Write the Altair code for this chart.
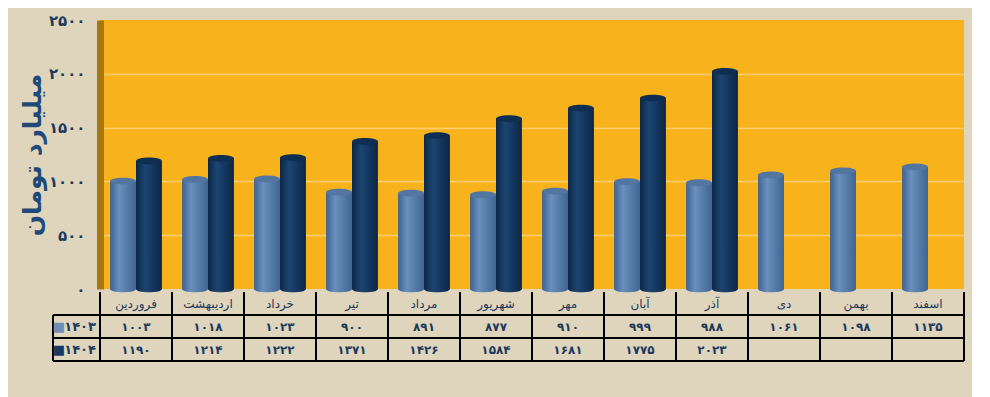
import altair as alt
import pandas as pd

# ---------------- data ----------------
months = ["فروردین", "اردیبهشت", "خرداد", "تیر", "مرداد", "شهریور",
          "مهر", "آبان", "آذر", "دی", "بهمن", "اسفند"]
series = ["1403", "1404"]
series_labels = ["۱۴۰۳", "۱۴۰۴"]
v1403 = [1003, 1018, 1023, 900, 891, 877, 910, 999, 988, 1061, 1098, 1135]
v1404 = [1190, 1214, 1222, 1371, 1426, 1584, 1681, 1775, 2023, None, None, None]
y_ticks = [0, 500, 1000, 1500, 2000, 2500]
y_tick_labels = ["۰", "۵۰۰", "۱۰۰۰", "۱۵۰۰", "۲۰۰۰", "۲۵۰۰"]
y_title = "میلیارد تومان"

FA = str.maketrans("0123456789", "۰۱۲۳۴۵۶۷۸۹")


def fa(v):
    return str(v).translate(FA)


rows = []
for i, m in enumerate(months):
    for s, vals in zip(series, (v1403, v1404)):
        v = vals[i]
        rows.append({"month": m, "series": s, "value": v,
                     "label": fa(v) if v is not None else ""})
df = pd.DataFrame(rows)

legend_df = pd.DataFrame({"row": series, "name": series_labels})
header_df = pd.DataFrame({"month": months, "row": ["header"] * len(months)})

# ---------------- style ----------------
FONT = "DejaVu Sans"
BG = "#DFD5BD"
PLOT_BG = "#F8B31C"
GRID = "#F9CF72"
WALL = "#A87810"
TEXT = "#1C3A5E"
TITLE_C = "#1F4A78"
LIGHT_TOP = "#52769F"
DARK_TOP = "#0E2E52"
LEGEND_C = ["#6F8FB8", "#173A60"]

W = 864
H = 269
TABLE_H = 69
LEG_W = 47
sub_band = W / 12 * 0.72 / 2
ellipse = "M -1 0 A 1 0.26 0 1 0 1 0 A 1 0.26 0 1 0 -1 0 Z"

light_grad = alt.Gradient(gradient="linear", x1=0, x2=1, y1=0, y2=0, stops=[
    alt.GradientStop(offset=0, color="#3F6390"),
    alt.GradientStop(offset=0.35, color="#6A90BF"),
    alt.GradientStop(offset=1, color="#40648F")])
dark_grad = alt.Gradient(gradient="linear", x1=0, x2=1, y1=0, y2=0, stops=[
    alt.GradientStop(offset=0, color="#0B2746"),
    alt.GradientStop(offset=0.35, color="#1C4571"),
    alt.GradientStop(offset=1, color="#0B2645")])

label_expr = " : ".join(
    f"datum.value == {t} ? '{l}'" for t, l in zip(y_ticks, y_tick_labels)) + " : ''"

x_main = alt.X("month:N", sort=months,
               scale=alt.Scale(domain=months, paddingInner=0.28, paddingOuter=0.14),
               axis=None)
xoff = alt.XOffset("series:N", scale=alt.Scale(domain=series))
y_main = alt.Y("value:Q", scale=alt.Scale(domain=[0, 2500], nice=False),
               axis=alt.Axis(values=y_ticks, labelExpr=label_expr, title=y_title,
                             grid=True, gridColor=GRID, gridWidth=1.5,
                             gridOpacity={"condition": {"test": "datum.value == 0 || datum.value == 2500", "value": 0}, "value": 1},
                             ticks=False, domainColor=WALL, domainWidth=7,
                             labelFont=FONT, labelFontSize=15, labelFontWeight="bold",
                             labelColor=TEXT, labelPadding=15,
                             titleFont=FONT, titleFontSize=25, titleFontWeight="bold",
                             titleColor=TITLE_C, titlePadding=3))

base = alt.Chart(df).transform_filter("isValid(datum.value)")

bars_light = base.transform_filter("datum.series == '1403'").mark_bar(
    color=light_grad).encode(x=x_main, xOffset=xoff, y=y_main)
bars_dark = base.transform_filter("datum.series == '1404'").mark_bar(
    color=dark_grad).encode(x=x_main, xOffset=xoff, y="value:Q")

bottom_light = base.transform_filter("datum.series == '1403'").mark_point(
    shape=ellipse, size=sub_band ** 2, filled=True, opacity=1, strokeWidth=0,
    color=light_grad).encode(x=x_main, xOffset=xoff, y=alt.datum(0))
bottom_dark = base.transform_filter("datum.series == '1404'").mark_point(
    shape=ellipse, size=sub_band ** 2, filled=True, opacity=1, strokeWidth=0,
    color=dark_grad).encode(x=x_main, xOffset=xoff, y=alt.datum(0))

tops = base.mark_point(shape=ellipse, size=sub_band ** 2, filled=True, opacity=1,
                       strokeWidth=0).encode(
    x=x_main, xOffset=xoff, y="value:Q",
    color=alt.Color("series:N", scale=alt.Scale(domain=series, range=[LIGHT_TOP, DARK_TOP]),
                    legend=None))

main = alt.layer(bars_light, bars_dark, bottom_light, bottom_dark, tops).properties(
    width=W, height=H, view=alt.ViewBackground(fill=PLOT_BG, stroke=None))

# ---------------- table ----------------
tab_x_scale = alt.Scale(domain=months, paddingInner=0, paddingOuter=0)
tab_y_scale = alt.Scale(domain=["header"] + series, paddingInner=0, paddingOuter=0)
x_tab = alt.X("month:N", sort=months, scale=tab_x_scale, axis=None)
y_tab = alt.Y("row:N", scale=tab_y_scale, axis=None)

header_text = alt.Chart(header_df).mark_text(
    font=FONT, fontSize=12, color=TEXT).encode(x=x_tab, y=y_tab, text="month:N")

vals_text = alt.Chart(df).transform_calculate(row="datum.series").mark_text(
    font=FONT, fontSize=12, fontWeight="bold", color=TEXT).encode(
    x=x_tab, y=y_tab, text="label:N")

vlines = alt.Chart(header_df).mark_rule(color="black", strokeWidth=2).encode(
    x=alt.X("month:N", sort=months, scale=tab_x_scale, axis=None, bandPosition=0))
vline_end = alt.Chart(header_df.tail(1)).mark_rule(color="black", strokeWidth=2).encode(
    x=alt.X("month:N", sort=months, scale=tab_x_scale, axis=None, bandPosition=1))

hlines = alt.Chart(legend_df).mark_rule(color="black", strokeWidth=2).encode(
    y=alt.Y("row:N", scale=tab_y_scale, axis=None, bandPosition=0),
    x=alt.value(-LEG_W), x2=alt.value(W))
hline_end = alt.Chart(legend_df.tail(1)).mark_rule(color="black", strokeWidth=2).encode(
    y=alt.Y("row:N", scale=tab_y_scale, axis=None, bandPosition=1),
    x=alt.value(-LEG_W), x2=alt.value(W))
left_line = alt.Chart(legend_df.head(1)).mark_rule(color="black", strokeWidth=2).encode(
    x=alt.value(-LEG_W), y=alt.value(TABLE_H / 3), y2=alt.value(TABLE_H))

squares = alt.Chart(legend_df).mark_text(font=FONT, fontSize=13).encode(
    x=alt.value(-41), y=y_tab, text=alt.value("■"),
    color=alt.Color("row:N", scale=alt.Scale(domain=series, range=LEGEND_C), legend=None))
row_names = alt.Chart(legend_df).mark_text(font=FONT, fontSize=13, fontWeight="bold",
                                           color=TEXT, align="right").encode(
    x=alt.value(-4), y=y_tab, text="name:N")

table = alt.layer(vlines, vline_end, hlines, hline_end, left_line,
                  header_text, vals_text, squares, row_names).properties(
    width=W, height=TABLE_H, view=alt.ViewBackground(fill=None, stroke=None))

chart = alt.vconcat(main, table, spacing=3, bounds="flush").resolve_scale(
    x="independent", y="independent", color="independent").properties(
    background=BG, padding={"left": 12, "top": 5, "right": 7, "bottom": 50}
).configure_view(stroke=None)

chart.save("out.html", embed_options={"renderer": "svg", "actions": False})
